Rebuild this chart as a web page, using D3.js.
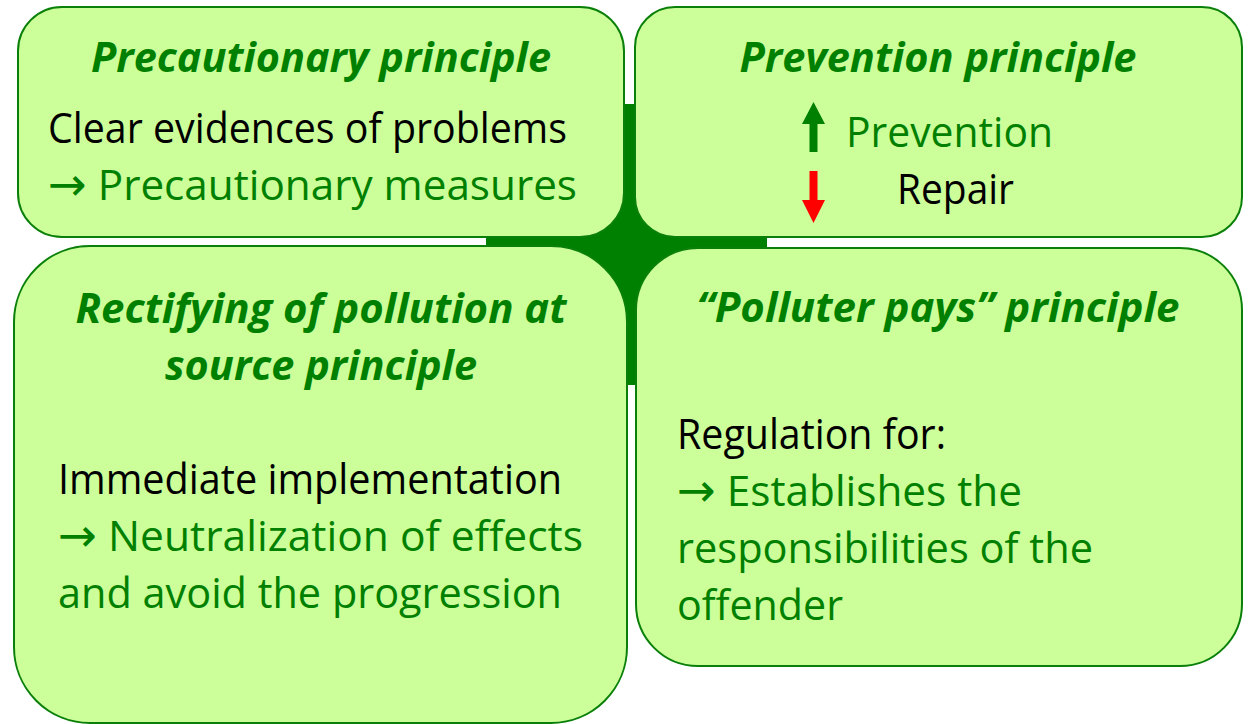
<!DOCTYPE html>
<html>
<head>
<meta charset="utf-8">
<script src="https://cdn.jsdelivr.net/npm/d3@7"></script>
<style>
    body { margin: 0; background: #ffffff; }
    #diagram-area { width: 1248px; height: 724px; }
    text { font-family: "Open Sans", "DejaVu Sans", sans-serif; }
    .arrow-glyph { font-family: "DejaVu Sans", sans-serif; }
</style>
</head>
<body>
<div id="diagram-area"></div>
<script>

// Principle titles (one per box, titles may wrap)
let titles = [
    ["Precautionary principle"],
    ["Prevention principle"],
    ["Rectifying of pollution at", "source principle"],
    ["\u201cPolluter pays\u201d principle"]
];

// Body lines per box, with colour key
let bodyLines = [
    [["Clear evidences of problems", "black"], ["\u2192 Precautionary measures", "green"]],
    [["Prevention", "green"], ["Repair", "black"]],
    [["Immediate implementation", "black"], ["\u2192 Neutralization of effects", "green"], ["and avoid the progression", "green"]],
    [["Regulation for:", "black"], ["\u2192 Establishes the", "green"], ["responsibilities of the", "green"], ["offender", "green"]]
];

// Direction markers in the prevention box
let markers = ["up", "down"];


class PrinciplesVis {

    constructor(parentElement) {
        this.parentElement = parentElement;

        // Colors
        this.colors = {
            fill: "#ccff99",
            stroke: "#0a800a",
            green: "#008000",
            black: "#000000",
            red: "#ff0000"
        };

        this.initVis();
    }

    initVis() {
        let vis = this;

        vis.width = 1248;
        vis.height = 724;

        vis.svg = d3.select("#" + vis.parentElement).append("svg")
            .attr("width", vis.width)
            .attr("height", vis.height);

        // box layout: x, y, w, h, corner radius
        vis.boxes = [
            {x: 18, y: 7, w: 606, h: 230, r: 44},
            {x: 635, y: 7, w: 607, h: 230, r: 40},
            {x: 14, y: 246, w: 613, h: 477, r: 76},
            {x: 636, y: 248, w: 606, h: 418, r: 62}
        ];

        // text layout per box: title lines then body lines
        vis.titleLayout = [
            [{x: 321, y: 72, len: 460}],
            [{x: 938, y: 72, len: 397}],
            [{x: 321, y: 323, len: 491}, {x: 321, y: 380, len: 312}],
            [{x: 938, y: 322, len: 483}]
        ];
        vis.bodyLayout = [
            [{x: 48, y: 143, len: 519}, {x: 48, y: 200, len: 529}],
            [{x: 846, y: 147, len: 207}, {x: 897, y: 204, len: 117}],
            [{x: 58, y: 494, len: 504}, {x: 58, y: 551, len: 525}, {x: 58, y: 608, len: 504}],
            [{x: 677, y: 449, len: 269}, {x: 677, y: 506, len: 345}, {x: 677, y: 563, len: 416}, {x: 677, y: 620, len: 166}]
        ];

        vis.updateVis();
    }

    updateVis() {
        let vis = this;

        // green cross behind the boxes
        let cross = vis.svg.append("g").attr("class", "cross")
            .attr("fill", vis.colors.green);
        cross.append("rect").attr("x", 486).attr("y", 236).attr("width", 281).attr("height", 12);
        cross.append("rect").attr("x", 624).attr("y", 104).attr("width", 12).attr("height", 281);
        cross.append("rect").attr("x", 560).attr("y", 170).attr("width", 140).attr("height", 150);

        // rounded boxes
        vis.svg.selectAll(".box")
            .data(vis.boxes)
            .enter()
            .append("rect")
            .attr("class", "box")
            .attr("x", d => d.x)
            .attr("y", d => d.y)
            .attr("width", d => d.w)
            .attr("height", d => d.h)
            .attr("rx", d => d.r)
            .attr("ry", d => d.r)
            .attr("fill", vis.colors.fill)
            .attr("stroke", vis.colors.stroke)
            .attr("stroke-width", 2);

        // titles
        titles.forEach(function(lines, i) {
            lines.forEach(function(line, j) {
                let pos = vis.titleLayout[i][j];
                vis.svg.append("text")
                    .attr("class", "title")
                    .attr("x", pos.x)
                    .attr("y", pos.y)
                    .attr("text-anchor", "middle")
                    .attr("font-size", 42)
                    .attr("font-weight", "bold")
                    .attr("font-style", "italic")
                    .attr("fill", vis.colors.green)
                    .attr("textLength", pos.len)
                    .attr("lengthAdjust", "spacingAndGlyphs")
                    .text(line);
            });
        });

        // body text (a leading arrow gets its own glyph font)
        bodyLines.forEach(function(lines, i) {
            lines.forEach(function(line, j) {
                let pos = vis.bodyLayout[i][j];
                let t = vis.svg.append("text")
                    .attr("class", "body")
                    .attr("x", pos.x)
                    .attr("y", pos.y)
                    .attr("font-size", 42)
                    .attr("fill", vis.colors[line[1]])
                    .attr("textLength", pos.len)
                    .attr("lengthAdjust", "spacingAndGlyphs");

                if (line[0].startsWith("\u2192")) {
                    t.append("tspan")
                        .attr("class", "arrow-glyph")
                        .attr("font-size", 46)
                        .text("\u2192");
                    t.append("tspan").text(line[0].slice(1));
                } else {
                    t.text(line[0]);
                }
            });
        });

        // up / down arrows next to Prevention / Repair
        let arrowY = d3.scalePoint().domain(markers).range([102, 171]);
        let arrow = d3.line();
        markers.forEach(function(m) {
            let top = arrowY(m);
            let cx = 813.5;
            let pts;
            if (m === "up") {
                pts = [[cx, top], [cx + 11.5, top + 22], [cx + 4, top + 22], [cx + 4, top + 50],
                       [cx - 4, top + 50], [cx - 4, top + 22], [cx - 11.5, top + 22]];
            } else {
                pts = [[cx - 4, top], [cx + 4, top], [cx + 4, top + 29], [cx + 11.5, top + 29],
                       [cx, top + 52], [cx - 11.5, top + 29], [cx - 4, top + 29]];
            }
            vis.svg.append("path")
                .attr("d", arrow(pts) + "Z")
                .attr("fill", m === "up" ? vis.colors.green : vis.colors.red);
        });
    }
}

let principlesVis = new PrinciplesVis("diagram-area");

</script>
</body>
</html>
